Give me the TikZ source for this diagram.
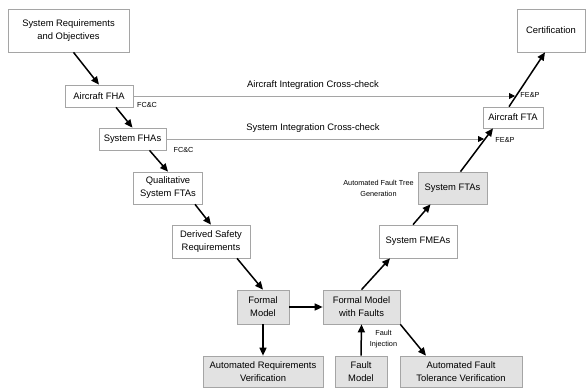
\documentclass[tikz,border=0pt]{standalone}
\usepackage{fontspec}
\setmainfont{Liberation Sans}
\definecolor{BoxGray}{RGB}{226, 226, 226}
\definecolor{EdgeGray}{RGB}{165, 165, 165}
\usetikzlibrary{arrows.meta}

\begin{document}
\begin{tikzpicture}[x=1pt, y=-1pt,
	box/.style={draw=EdgeGray, line width=0.7pt, fill=white, align=center, font=\fontsize{9.4}{13}\selectfont, inner sep=0pt},
	gbox/.style={box, fill=BoxGray},
	flow/.style={-{Triangle[length=8pt, width=7pt]}, line width=1.5pt},
	check/.style={-{Triangle[length=6pt, width=6pt, black]}, draw=EdgeGray, line width=0.8pt},
	lbl/.style={font=\fontsize{9.4}{11}\selectfont},
	tag/.style={align=center, font=\fontsize{7.3}{11.5}\selectfont, inner sep=0pt}]
	\useasboundingbox (0,0) rectangle (586,388);
	\node[box, minimum width=121pt, minimum height=43pt] (req) at (68.5,30.5) {System Requirements\\and Objectives};
	\node[box, minimum width=68pt, minimum height=22pt] (afha) at (99,96) {Aircraft FHA};
	\node[box, minimum width=67pt, minimum height=22pt] (sfha) at (132.5,139) {System FHAs};
	\node[box, minimum width=69pt, minimum height=32pt] (qfta) at (168,188) {Qualitative\\System FTAs};
	\node[box, minimum width=78pt, minimum height=33pt] (dsr) at (211,241.5) {Derived Safety\\Requirements};
	\node[gbox, minimum width=52pt, minimum height=34pt] (fm) at (263,307) {Formal\\Model};
	\node[gbox, minimum width=77pt, minimum height=34pt] (fmf) at (361.5,307) {Formal Model\\with Faults};
	\node[gbox, minimum width=120pt, minimum height=31pt] (arv) at (263,371.5) {Automated Requirements\\Verification};
	\node[gbox, minimum width=52pt, minimum height=31pt] (fault) at (361,371.5) {Fault\\Model};
	\node[gbox, minimum width=122pt, minimum height=31pt] (aftv) at (461,371.5) {Automated Fault\\Tolerance Verification};
	\node[box, minimum width=78pt, minimum height=33pt] (fmea) at (418,241.5) {System FMEAs};
	\node[gbox, minimum width=69pt, minimum height=32pt] (sfta) at (452.5,188) {System FTAs};
	\node[box, minimum width=60pt, minimum height=21pt] (afta) at (513,117.5) {Aircraft FTA};
	\node[box, minimum width=68pt, minimum height=43pt] (cert) at (551,30.5) {Certification};
	\coordinate (ac) at (515,96);
	\coordinate (sc) at (484,139);
	\draw[check] (afha.east) -- (ac);
	\draw[check] (sfha.east) -- (sc);
	\draw[flow] ([xshift=5pt]req.south) -- (afha.north);
	\draw[flow] ([xshift=17pt]afha.south) -- (sfha.north);
	\draw[flow] ([xshift=17pt]sfha.south) -- (qfta.north);
	\draw[flow] ([xshift=27pt]qfta.south) -- (dsr.north);
	\draw[flow] ([xshift=26pt]dsr.south) -- (fm.north);
	\draw[flow] (fm.east) -- (fmf.west);
	\draw[flow] (fm.south) -- (arv.north);
	\draw[flow] (fault.north) -- (fmf.south);
	\draw[flow] (fmf.south east) -- ([xshift=-35pt]aftv.north);
	\draw[flow] (fmf.north) -- ([xshift=-28pt]fmea.south);
	\draw[flow] ([xshift=-5pt]fmea.north) -- ([xshift=-22pt]sfta.south);
	\draw[flow] ([xshift=8pt]sfta.north) -- ([xshift=-20pt]afta.south);
	\draw[flow] ([xshift=-4pt]afta.north) -- ([xshift=-6pt]cert.south);
	\node[lbl] (aicc) at (313,85) {Aircraft Integration Cross-check};
	\node[lbl] (sicc) at (313,128) {System Integration Cross-check};
	\node[tag] (fc1) at (147,105) {FC\&C};
	\node[tag] (fc2) at (183.5,150) {FC\&C};
	\node[tag] (fe1) at (530,95) {FE\&P};
	\node[tag] (fe2) at (505,140) {FE\&P};
	\node[tag] (aftg) at (378.5,188.5) {Automated Fault Tree\\Generation};
	\node[tag] (finj) at (383.5,339) {Fault\\Injection};
\end{tikzpicture}
\end{document}
